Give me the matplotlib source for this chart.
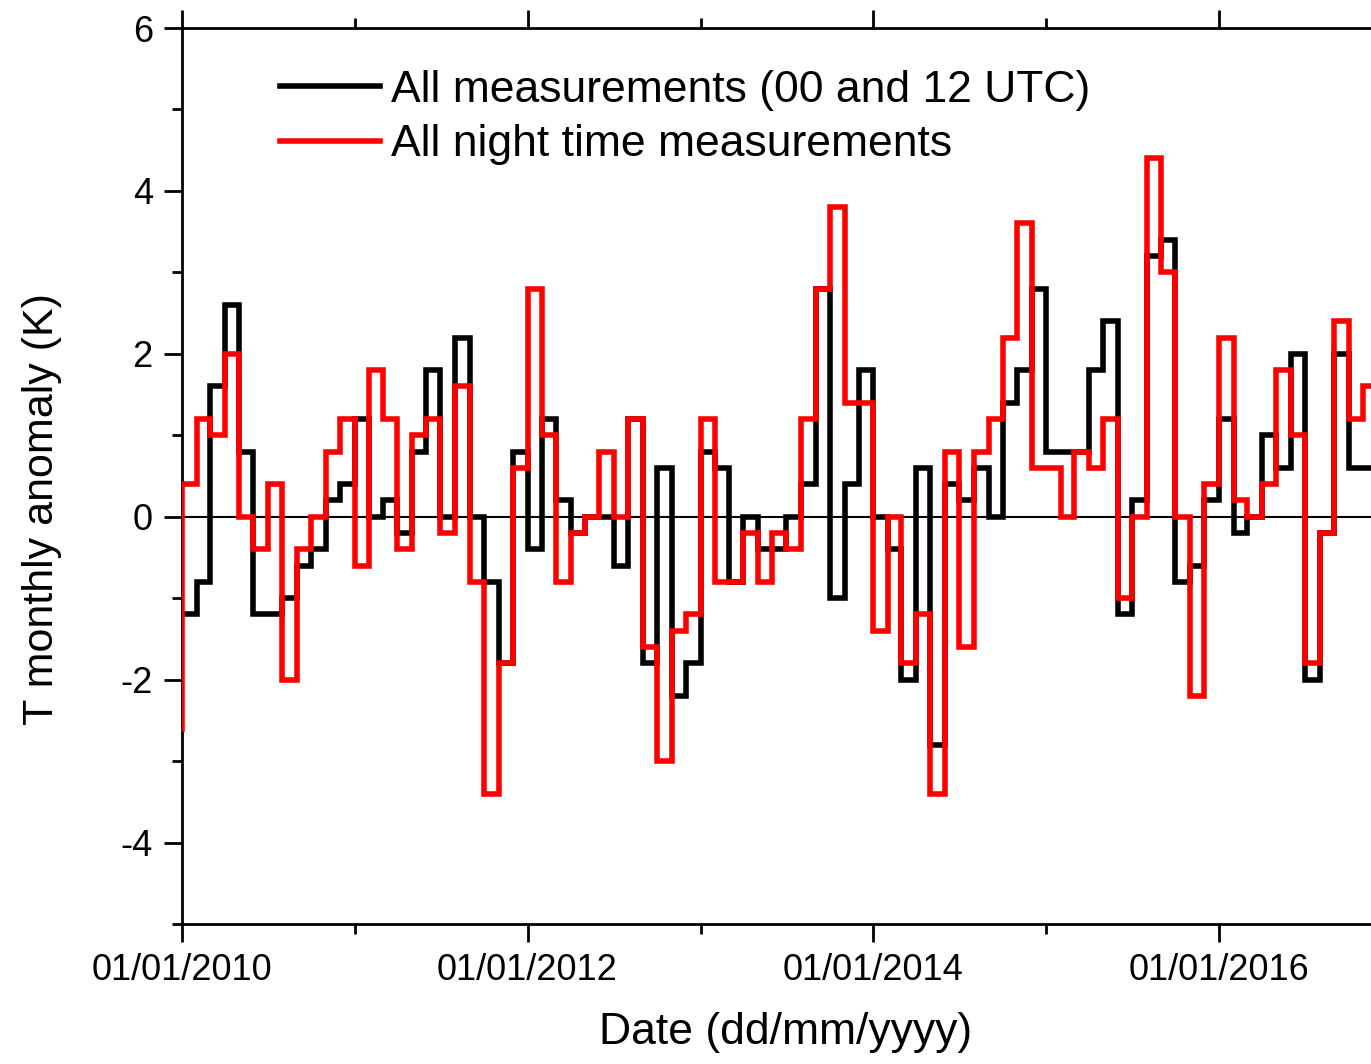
import matplotlib
matplotlib.use("Agg")
import matplotlib.pyplot as plt
import matplotlib.dates as mdates
import numpy as np
import pandas as pd

plt.rcParams['font.family'] = ['Liberation Sans', 'DejaVu Sans']
plt.rcParams['axes.unicode_minus'] = False

# Monthly anomalies starting January 2010 (one value per month)
all_meas = [-1.2, -0.8, 1.6, 2.6, 0.8, -1.2, -1.2, -1.0, -0.6, -0.4, 0.2, 0.4,
            1.2, 0.0, 0.2, -0.2, 0.8, 1.8, 0.0, 2.2, 0.0, -0.8, -1.8, 0.8,
            -0.4, 1.2, 0.2, -0.2, 0.0, 0.0, -0.6, 1.2, -1.8, 0.6, -2.2, -1.8,
            0.8, 0.6, -0.8, 0.0, -0.4, -0.4, 0.0, 0.4, 2.8, -1.0, 0.4, 1.8,
            0.0, -0.4, -2.0, 0.6, -2.8, 0.4, 0.2, 0.6, 0.0, 1.4, 1.8, 2.8,
            0.8, 0.8, 0.8, 1.8, 2.4, -1.2, 0.2, 3.2, 3.4, -0.8, -0.6, 0.2,
            1.2, -0.2, 0.0, 1.0, 0.6, 2.0, -2.0, -0.2, 2.0, 0.6, 0.6]
night = [0.4, 1.2, 1.0, 2.0, 0.0, -0.4, 0.4, -2.0, -0.4, 0.0, 0.8, 1.2,
         -0.6, 1.8, 1.2, -0.4, 1.0, 1.2, -0.2, 1.6, -0.8, -3.4, -1.8, 0.6,
         2.8, 1.0, -0.8, -0.2, 0.0, 0.8, 0.0, 1.2, -1.6, -3.0, -1.4, -1.2,
         1.2, -0.8, -0.8, -0.2, -0.8, -0.2, -0.4, 1.2, 2.8, 3.8, 1.4, 1.4,
         -1.4, 0.0, -1.8, -1.2, -3.4, 0.8, -1.6, 0.8, 1.2, 2.2, 3.6, 0.6,
         0.6, 0.0, 0.8, 0.6, 1.2, -1.0, 0.0, 4.4, 3.0, 0.0, -2.2, 0.4,
         2.2, 0.2, 0.0, 0.4, 1.8, 1.0, -1.8, -0.2, 2.4, 1.2, 1.6]
all_start = -1.2
night_start = -2.6

labels = ["All measurements (00 and 12 UTC)", "All night time measurements"]
yticks_major = [-4, -2, 0, 2, 4, 6]
yticks_minor = [-5, -3, -1, 1, 3, 5]

W, H = 1371, 1064
fig = plt.figure(figsize=(W / 100, H / 100), dpi=100)

x0 = pd.Timestamp('2010-01-01')
x16 = pd.Timestamp('2016-01-01')
xmax = pd.Timestamp('2017-07-01')
ppd = (1219 - 182) / (x16 - x0).days
width_px = (xmax - x0).days * ppd
ax = fig.add_axes([182 / W, (H - 924) / H, width_px / W, (924 - 28) / H])

n = len(night)
edges = pd.date_range('2010-01-01', periods=n + 1, freq='MS')

def step_xy(start, vals):
    xs = [edges[0]] + list(edges)
    ys = [start] + list(vals) + [vals[-1]]
    return xs, ys

ax.axhline(0, color='black', lw=1.5, zorder=1)
xb, yb = step_xy(all_start, all_meas)
xr, yr = step_xy(night_start, night)
ax.step(xb, yb, where='post', color='black', lw=4.0, solid_joinstyle='miter',
        label=labels[0], zorder=2)
ax.step(xr, yr, where='post', color='#ff0000', lw=4.0, solid_joinstyle='miter',
        label=labels[1], zorder=3)

ax.set_xlim(x0, xmax)
ax.set_ylim(-5, 6)
ax.set_yticks(yticks_major)
ax.set_yticks(yticks_minor, minor=True)
ax.set_yticklabels([str(v) for v in yticks_major])

ax.xaxis.set_major_locator(mdates.YearLocator(2, month=1, day=1))
ax.xaxis.set_minor_locator(mdates.YearLocator(1, month=1, day=1))
ax.xaxis.set_major_formatter(mdates.DateFormatter('%d/%m/%Y'))

for s in ax.spines.values():
    s.set_linewidth(2.0)
ax.spines['right'].set_visible(False)

ax.tick_params(axis='both', which='major', direction='out', length=13, width=2,
               labelsize=26, pad=8)
ax.tick_params(axis='both', which='minor', direction='out', length=7, width=2)
ax.tick_params(axis='x', which='both', top=True, labeltop=False)
ax.tick_params(axis='y', which='both', right=False)

ax.set_ylabel("T monthly anomaly (K)", fontsize=31)
ax.yaxis.set_label_coords(62 / W, 1 - 509 / H, transform=fig.transFigure)
ax.set_xlabel("Date (dd/mm/yyyy)", fontsize=32)
ax.xaxis.set_label_coords(786 / W, 1 - 1012 / H, transform=fig.transFigure)

leg = ax.legend(loc='upper left', bbox_to_anchor=(280 / W, 1 - 70 / H),
                bbox_transform=fig.transFigure, frameon=False, fontsize=32,
                handlelength=2.25, handletextpad=0.25, labelspacing=0.3,
                borderpad=0, borderaxespad=0)
for h in leg.get_lines():
    h.set_linewidth(4.0)

fig.savefig('out.png', dpi=100)
